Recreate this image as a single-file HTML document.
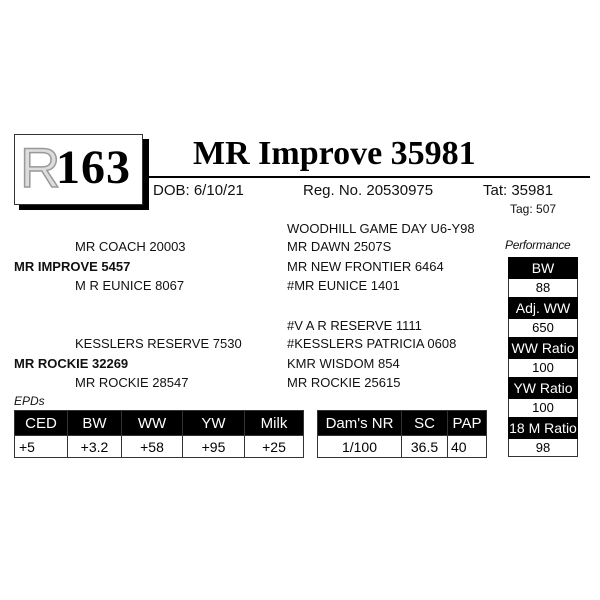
<!DOCTYPE html>
<html><head><style>
body{margin:0;width:600px;height:600px;background:#fff;position:relative;font-family:"Liberation Sans",sans-serif;overflow:hidden}
.t{position:absolute;white-space:nowrap;font-size:13px;color:#111;line-height:1}
.b{font-weight:bold}
table{position:absolute;border-collapse:collapse;font-size:14px}
td{text-align:center;padding:0;border:1px solid #333}
.h td{background:#000;color:#fff;height:24px;font-size:15px;border-left-color:#fff}
.h td:first-child{border-left-color:#333}
.v td{height:21px;background:#fff}
.p{position:absolute;left:508px;width:70px;text-align:center;font-size:13px}
.ph{background:#000;color:#fff;height:22px;line-height:22px;font-size:14px}
.pv{height:18px;line-height:18px;border-left:1px solid #333;border-right:1px solid #333;box-sizing:border-box}
</style></head><body>
<div style="position:absolute;left:19px;top:139px;width:130px;height:71px;background:#000"></div>
<div style="position:absolute;left:14px;top:134px;width:127px;height:69px;border:1px solid #333;background:#fff"></div>
<div class="t" style="left:20px;top:140px;font-size:56px;color:#ddd;-webkit-text-stroke:1.5px #999;font-family:'Liberation Sans',sans-serif">R</div>
<div class="t" style="left:56px;top:144px;font-size:48px;font-weight:bold;font-family:'Liberation Serif',serif;color:#000;letter-spacing:1px">163</div>
<div class="t" style="left:193px;top:137px;font-size:34px;font-weight:bold;font-family:'Liberation Serif',serif;color:#000">MR Improve 35981</div>
<div style="position:absolute;left:143px;top:176px;width:447px;height:2px;background:#000"></div>
<div class="t" style="left:153px;top:183px;font-size:15px">DOB: 6/10/21</div>
<div class="t" style="left:303px;top:183px;font-size:15px">Reg. No. 20530975</div>
<div class="t" style="left:483px;top:183px;font-size:15px">Tat: 35981</div>
<div class="t" style="left:510px;top:203px;font-size:12px">Tag: 507</div>
<div class="t" style="left:287px;top:222px">WOODHILL GAME DAY U6-Y98</div>
<div class="t" style="left:75px;top:240px">MR COACH 20003</div>
<div class="t" style="left:287px;top:240px">MR DAWN 2507S</div>
<div class="t b" style="left:14px;top:260px">MR IMPROVE 5457</div>
<div class="t" style="left:287px;top:260px">MR NEW FRONTIER 6464</div>
<div class="t" style="left:75px;top:279px">M R EUNICE 8067</div>
<div class="t" style="left:287px;top:279px">#MR EUNICE 1401</div>
<div class="t" style="left:287px;top:319px">#V A R RESERVE 1111</div>
<div class="t" style="left:75px;top:337px">KESSLERS RESERVE 7530</div>
<div class="t" style="left:287px;top:337px">#KESSLERS PATRICIA 0608</div>
<div class="t b" style="left:14px;top:357px">MR ROCKIE 32269</div>
<div class="t" style="left:287px;top:357px">KMR WISDOM 854</div>
<div class="t" style="left:75px;top:376px">MR ROCKIE 28547</div>
<div class="t" style="left:287px;top:376px">MR ROCKIE 25615</div>
<div class="t" style="left:14px;top:395px;font-style:italic;font-size:12px">EPDs</div>
<div class="t" style="left:505px;top:239px;font-style:italic;font-size:12px;letter-spacing:-0.3px">Performance</div>
<table style="left:14px;top:410px;width:290px">
<tr class="h"><td style="width:52px">CED</td><td style="width:53px">BW</td><td style="width:60px">WW</td><td style="width:61px">YW</td><td>Milk</td></tr>
<tr class="v"><td style="text-align:left;padding-left:4px">+5</td><td>+3.2</td><td>+58</td><td>+95</td><td>+25</td></tr></table>
<table style="left:317px;top:410px;width:170px">
<tr class="h"><td style="width:83px">Dam's NR</td><td style="width:45px">SC</td><td>PAP</td></tr>
<tr class="v"><td>1/100</td><td>36.5</td><td style="text-align:left;padding-left:3px">40</td></tr></table>
<div class="p" style="top:257px">
<div class="ph">BW</div><div class="pv">88</div>
<div class="ph">Adj. WW</div><div class="pv">650</div>
<div class="ph">WW Ratio</div><div class="pv">100</div>
<div class="ph">YW Ratio</div><div class="pv">100</div>
<div class="ph">18 M Ratio</div><div class="pv" style="border-bottom:1px solid #333">98</div>
</div>
</body></html>
